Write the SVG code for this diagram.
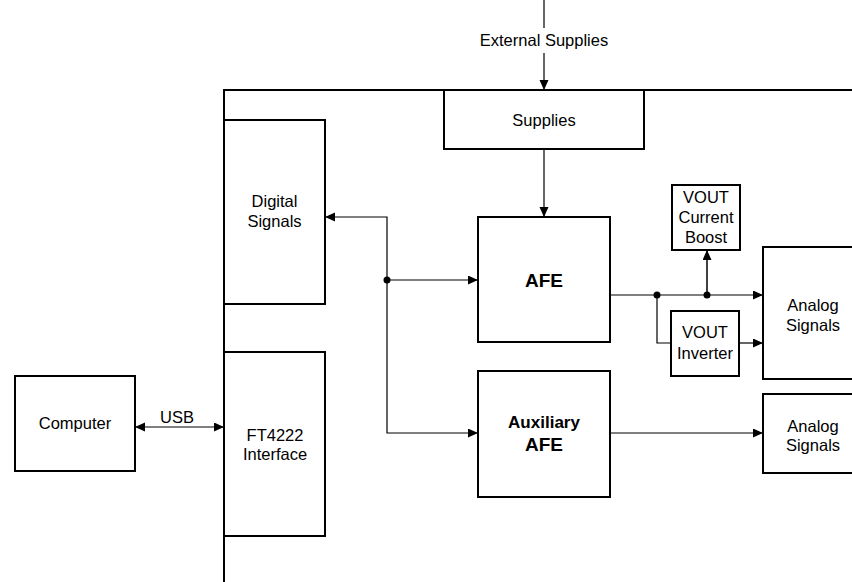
<svg xmlns="http://www.w3.org/2000/svg" width="852" height="582" viewBox="0 0 852 582">
<style>
  .box { fill: #fff; stroke: #000; stroke-width: 2; }
  .board { fill: none; stroke: #000; stroke-width: 2; }
  .wire { fill: none; stroke: #000; stroke-width: 1.2; }
  .dot { fill: #000; }
  .t { font-family: "Liberation Sans", Arial, sans-serif; font-size: 16.5px; fill: #000; text-anchor: middle; }
  .b { font-family: "Liberation Sans", Arial, sans-serif; font-weight: bold; fill: #000; text-anchor: middle; }
</style>
<defs>
  <marker id="arr" markerUnits="userSpaceOnUse" markerWidth="10" markerHeight="10" refX="10" refY="4.5" orient="auto-start-reverse">
    <path d="M0,0 L10,4.5 L0,9 z" fill="#000"/>
  </marker>
</defs>
<rect width="852" height="582" fill="#fff"/>

<g id="board">
  <path class="board" d="M224,582 V90 H852"/>
</g>

<g id="connectors">
  <path class="wire" d="M544,0 V28"/>
  <path class="wire" d="M544,53 V90" marker-end="url(#arr)"/>
  <path class="wire" d="M544,149 V217" marker-end="url(#arr)"/>
  <path class="wire" d="M478,433 H387 V217 H325" marker-start="url(#arr)" marker-end="url(#arr)"/>
  <path class="wire" d="M387,280 H478" marker-end="url(#arr)"/>
  <circle class="dot" cx="387" cy="280" r="3.5"/>
  <path class="wire" d="M135,427 H224" marker-start="url(#arr)" marker-end="url(#arr)"/>
  <path class="wire" d="M610,295 H763" marker-end="url(#arr)"/>
  <path class="wire" d="M657,295 V343 H671"/>
  <path class="wire" d="M739,343 H763" marker-end="url(#arr)"/>
  <path class="wire" d="M707,295 V250" marker-end="url(#arr)" style="stroke-width:1.5"/>
  <circle class="dot" cx="657" cy="295" r="3.5"/>
  <circle class="dot" cx="707" cy="295" r="3.5"/>
  <path class="wire" d="M610,433 H763" marker-end="url(#arr)"/>
  <text class="t" x="544" y="46">External Supplies</text>
  <text class="t" x="177" y="423">USB</text>
</g>

<g id="supplies">
  <rect class="box" x="444" y="90" width="200" height="59"/>
  <text class="t" x="544" y="125.5">Supplies</text>
</g>

<g id="digital-signals">
  <rect class="box" x="224" y="120" width="101" height="184"/>
  <text class="t" x="274.5" y="207">Digital</text>
  <text class="t" x="274.5" y="227">Signals</text>
</g>

<g id="ft4222">
  <rect class="box" x="224" y="352" width="101" height="184"/>
  <text class="t" x="275" y="441">FT4222</text>
  <text class="t" x="275" y="460">Interface</text>
</g>

<g id="computer">
  <rect class="box" x="15" y="376" width="120" height="95"/>
  <text class="t" x="75" y="429">Computer</text>
</g>

<g id="afe">
  <rect class="box" x="478" y="217" width="132" height="125"/>
  <text class="b" x="544" y="286.5" font-size="19">AFE</text>
</g>

<g id="aux-afe">
  <rect class="box" x="478" y="371" width="132" height="126"/>
  <text class="b" x="544" y="428" font-size="17">Auxiliary</text>
  <text class="b" x="544" y="451" font-size="19">AFE</text>
</g>

<g id="vout-boost">
  <rect class="box" x="672" y="185" width="68" height="65"/>
  <text class="t" x="706" y="203">VOUT</text>
  <text class="t" x="706" y="223">Current</text>
  <text class="t" x="706" y="243">Boost</text>
</g>

<g id="vout-inverter">
  <rect class="box" x="671" y="311" width="68" height="65"/>
  <text class="t" x="705" y="338">VOUT</text>
  <text class="t" x="705" y="359">Inverter</text>
</g>

<g id="analog-signals-1">
  <rect class="box" x="763" y="247" width="100" height="132"/>
  <text class="t" x="813" y="311">Analog</text>
  <text class="t" x="813" y="331">Signals</text>
</g>

<g id="analog-signals-2">
  <rect class="box" x="763" y="394" width="100" height="79"/>
  <text class="t" x="813" y="431.5">Analog</text>
  <text class="t" x="813" y="451">Signals</text>
</g>
</svg>
